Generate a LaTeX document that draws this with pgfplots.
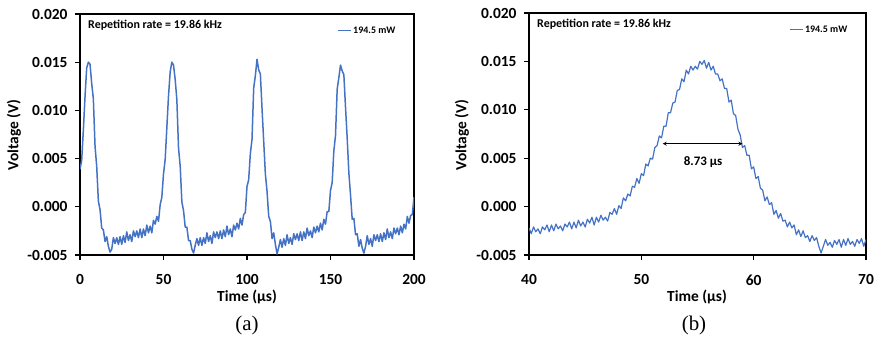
\documentclass[border=0pt]{standalone}
\usepackage{fontspec}
\usepackage{pgfplots}
\pgfplotsset{compat=1.18}
\newfontfamily\cb{Carlito}
\newfontfamily\tnr{Liberation Serif}
\definecolor{xblue}{RGB}{68,114,196}

\pgfplotstableread{
t v
0 0.0039
1 0.0048
2 0.0079
3 0.0114
4 0.0144
5 0.0150
6 0.0148
7 0.0128
8 0.0112
9 0.0063
10 0.0042
11 0.0006
12 -0.0003
13 -0.0022
14 -0.0024
15 -0.0036
16 -0.0031
17 -0.0041
18 -0.0047
19 -0.0044
20 -0.0032
21 -0.0038
22 -0.0032
23 -0.0039
24 -0.0031
25 -0.0039
26 -0.0030
27 -0.0037
28 -0.0026
29 -0.0035
30 -0.0029
31 -0.0036
32 -0.0025
33 -0.0031
34 -0.0025
35 -0.0032
36 -0.0023
37 -0.0032
38 -0.0023
39 -0.0030
40 -0.0019
41 -0.0027
42 -0.0020
43 -0.0027
44 -0.0014
45 -0.0018
46 -0.0010
47 -0.0015
48 0.0002
49 0.0010
50 0.0034
51 0.0049
52 0.0082
53 0.0115
54 0.0140
55 0.0150
56 0.0147
57 0.0132
58 0.0111
59 0.0061
60 0.0042
61 0.0005
62 -0.0004
63 -0.0021
64 -0.0021
65 -0.0035
66 -0.0035
67 -0.0044
68 -0.0048
69 -0.0040
70 -0.0033
71 -0.0040
72 -0.0032
73 -0.0040
74 -0.0032
75 -0.0038
76 -0.0027
77 -0.0036
78 -0.0030
79 -0.0038
80 -0.0026
81 -0.0032
82 -0.0026
83 -0.0033
84 -0.0025
85 -0.0033
86 -0.0024
87 -0.0031
88 -0.0020
89 -0.0029
90 -0.0023
91 -0.0031
92 -0.0019
93 -0.0024
94 -0.0017
95 -0.0023
96 -0.0012
97 -0.0019
98 -0.0008
99 -0.0006
100 0.0021
101 0.0028
102 0.0055
103 0.0070
104 0.0123
105 0.0136
106 0.0153
107 0.0142
108 0.0138
109 0.0102
110 0.0068
111 0.0034
112 0.0016
113 -0.0010
114 -0.0015
115 -0.0033
116 -0.0027
117 -0.0039
118 -0.0049
119 -0.0042
120 -0.0034
121 -0.0042
122 -0.0033
123 -0.0040
124 -0.0029
125 -0.0038
126 -0.0032
127 -0.0039
128 -0.0028
129 -0.0034
130 -0.0028
131 -0.0035
132 -0.0026
133 -0.0035
134 -0.0026
135 -0.0033
136 -0.0022
137 -0.0030
138 -0.0025
139 -0.0032
140 -0.0021
141 -0.0027
142 -0.0020
143 -0.0026
144 -0.0017
145 -0.0024
146 -0.0013
147 -0.0018
148 -0.0005
149 -0.0005
150 0.0017
151 0.0025
152 0.0058
153 0.0074
154 0.0122
155 0.0134
156 0.0147
157 0.0141
158 0.0137
159 0.0103
160 0.0071
161 0.0035
162 0.0012
163 -0.0013
164 -0.0012
165 -0.0029
166 -0.0028
167 -0.0041
168 -0.0034
169 -0.0043
170 -0.0048
171 -0.0041
172 -0.0030
173 -0.0039
174 -0.0033
175 -0.0041
176 -0.0029
177 -0.0035
178 -0.0029
179 -0.0036
180 -0.0028
181 -0.0036
182 -0.0027
183 -0.0034
184 -0.0023
185 -0.0032
186 -0.0026
187 -0.0033
188 -0.0022
189 -0.0028
190 -0.0022
191 -0.0029
192 -0.0020
193 -0.0027
194 -0.0018
195 -0.0023
196 -0.0010
197 -0.0017
198 -0.0009
199 -0.0008
200 0.0010
}\dataA

\pgfplotstableread{
t v
40.0 -0.0022
40.2 -0.0028
40.4 -0.0021
40.6 -0.0026
40.8 -0.0023
41.0 -0.0028
41.2 -0.0021
41.4 -0.0024
41.6 -0.0019
41.8 -0.0026
42.0 -0.0019
42.2 -0.0025
42.4 -0.0018
42.6 -0.0023
42.8 -0.0020
43.0 -0.0025
43.2 -0.0018
43.4 -0.0021
43.6 -0.0016
43.8 -0.0023
44.0 -0.0016
44.2 -0.0022
44.4 -0.0014
44.6 -0.0020
44.8 -0.0016
45.0 -0.0021
45.2 -0.0013
45.4 -0.0017
45.6 -0.0011
45.8 -0.0019
46.0 -0.0011
46.2 -0.0016
46.4 -0.0009
46.6 -0.0014
46.8 -0.0011
47.0 -0.0015
47.2 -0.0006
47.4 -0.0008
47.6 -0.0002
47.8 -0.0008
48.0 0.0001
48.2 -0.0002
48.4 0.0009
48.6 0.0006
48.8 0.0013
49.0 0.0011
49.2 0.0021
49.4 0.0020
49.6 0.0029
49.8 0.0024
50.0 0.0034
50.2 0.0032
50.4 0.0044
50.6 0.0042
50.8 0.0050
51.0 0.0049
51.2 0.0061
51.4 0.0063
51.6 0.0073
51.8 0.0071
52.0 0.0083
52.2 0.0083
52.4 0.0097
52.6 0.0097
52.8 0.0107
53.0 0.0108
53.2 0.0120
53.4 0.0121
53.6 0.0132
53.8 0.0129
54.0 0.0141
54.2 0.0137
54.4 0.0145
54.6 0.0141
54.8 0.0145
55.0 0.0142
55.2 0.0150
55.4 0.0147
55.6 0.0151
55.8 0.0143
56.0 0.0149
56.2 0.0141
56.4 0.0145
56.6 0.0137
56.8 0.0137
57.0 0.0130
57.2 0.0132
57.4 0.0122
57.6 0.0122
57.8 0.0108
58.0 0.0110
58.2 0.0096
58.4 0.0094
58.6 0.0080
58.8 0.0074
59.0 0.0061
59.2 0.0063
59.4 0.0053
59.6 0.0053
59.8 0.0039
60.0 0.0041
60.2 0.0029
60.4 0.0031
60.6 0.0019
60.8 0.0017
61.0 0.0006
61.2 0.0010
61.4 0.0002
61.6 0.0004
61.8 -0.0008
62.0 -0.0004
62.2 -0.0012
62.4 -0.0007
62.6 -0.0015
62.8 -0.0014
63.0 -0.0021
63.2 -0.0016
63.4 -0.0022
63.6 -0.0019
63.8 -0.0029
64.0 -0.0024
64.2 -0.0031
64.4 -0.0025
64.6 -0.0032
64.8 -0.0030
65.0 -0.0036
65.2 -0.0030
65.4 -0.0035
65.6 -0.0032
65.8 -0.0041
66.0 -0.0048
66.2 -0.0041
66.4 -0.0034
66.6 -0.0040
66.8 -0.0037
67.0 -0.0042
67.2 -0.0035
67.4 -0.0039
67.6 -0.0034
67.8 -0.0042
68.0 -0.0034
68.2 -0.0040
68.4 -0.0033
68.6 -0.0039
68.8 -0.0036
69.0 -0.0041
69.2 -0.0034
69.4 -0.0038
69.6 -0.0033
69.8 -0.0041
70.0 -0.0034
}\dataB

\pgfplotsset{
  myax/.style={
    scale only axis,
    axis line style={line width=1.5bp, black},
    tick align=outside,
    xtick pos=bottom, ytick pos=left,
    major tick length=5bp,
    tick style={line width=1.2bp, black},
    ymin=-0.005, ymax=0.020,
    ytick={-0.005,0,0.005,0.01,0.015,0.02},
    yticklabels={-0.005,0.000,0.005,0.010,0.015,0.020},
    scaled y ticks=false, scaled x ticks=false,
    tick label style={font=\cb\bfseries\fontsize{15.5}{15.5}\selectfont},
    yticklabel style={xshift=-4bp},
    xticklabel style={yshift=-11bp},
    legend style={at={(axis description cs:0.949,0.931)}, anchor=east, draw=none, fill=none,
      inner sep=0pt, outer sep=0pt, font=\cb\bfseries\fontsize{10}{10}\selectfont,
      nodes={inner sep=1.5bp}},
    legend image code/.code={\draw[#1, line width=1bp] (0bp,0bp) -- (13bp,0bp);},
    clip=true,
  }
}

\begin{document}
\begin{tikzpicture}
\useasboundingbox (0bp,0bp) rectangle (876bp,338bp);

\begin{axis}[myax, at={(80bp,83bp)}, anchor=south west, width=334bp, height=241bp,
  xmin=0, xmax=200, xtick={0,50,100,150,200}, xticklabels={0,50,100,150,200}]
\addplot[xblue, line width=1.5bp, line join=round] table[x=t, y=v] {\dataA};
\addlegendentry{194.5 mW}
\end{axis}

\begin{axis}[myax, at={(529bp,83bp)}, anchor=south west, width=337bp, height=242bp,
  xmin=40, xmax=70, xtick={40,50,60,70}, xticklabels={40,50,60,70}]
\addplot[xblue, line width=1.2bp, line join=round] table[x=t, y=v] {\dataB};
\addlegendentry{194.5 mW}
\draw[<->, >=stealth, line width=0.8bp, black] (axis cs:51.9,0.0065) -- (axis cs:59.0,0.0065);
\node[font=\cb\bfseries\fontsize{13}{13}\selectfont] at (axis cs:55.5,0.0046) {8.73 µs};
\end{axis}

% texts around the axes
\node[anchor=west, inner sep=0pt, font=\cb\bfseries\fontsize{12}{12}\selectfont] at (88bp,313bp) {Repetition rate = 19.86 kHz};
\node[anchor=west, inner sep=0pt, font=\cb\bfseries\fontsize{12}{12}\selectfont] at (537bp,314bp) {Repetition rate = 19.86 kHz};

\node[rotate=90, inner sep=0pt, font=\cb\bfseries\fontsize{15.5}{15.5}\selectfont] at (14bp,203bp) {Voltage (V)};
\node[rotate=90, inner sep=0pt, font=\cb\bfseries\fontsize{15.5}{15.5}\selectfont] at (462bp,203bp) {Voltage (V)};

\node[inner sep=0pt, font=\cb\bfseries\fontsize{15.5}{15.5}\selectfont] at (247bp,41bp) {Time (µs)};
\node[inner sep=0pt, font=\cb\bfseries\fontsize{15.5}{15.5}\selectfont] at (697bp,41bp) {Time (µs)};

\node[inner sep=0pt, font=\tnr\fontsize{21}{21}\selectfont] at (247bp,13bp) {(a)};
\node[inner sep=0pt, font=\tnr\fontsize{21}{21}\selectfont] at (694bp,13bp) {(b)};
\end{tikzpicture}
\end{document}
